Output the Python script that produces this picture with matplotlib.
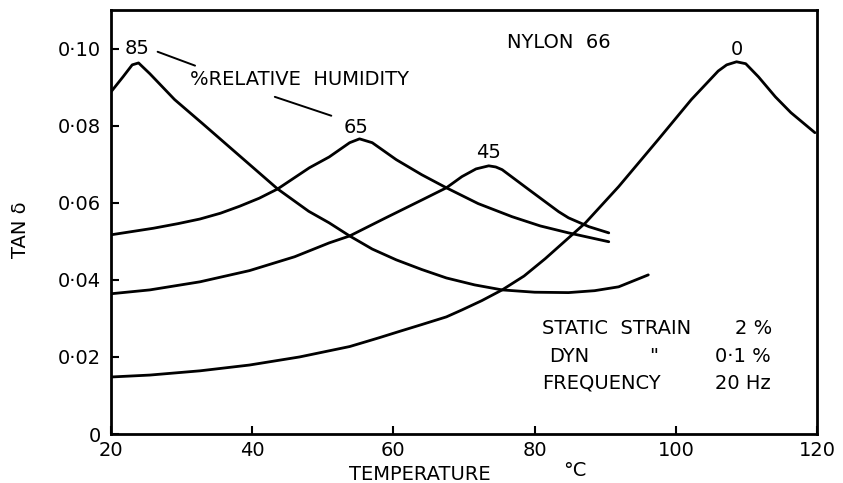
import matplotlib.pyplot as plt
import numpy as np

# tan delta of nylon 66 against temperature, one curve per relative humidity
temp_85 = [20.0, 21.7, 23.0, 23.9, 25.5, 29.0, 33.0, 37.2, 43.6, 48.0, 50.9, 53.8, 57.0, 60.4, 64.0, 67.5,
           71.5, 75.4, 80.0, 84.8, 88.5, 91.9, 96.1]
tan_85 = [0.0888, 0.0927, 0.0958, 0.0963, 0.0935, 0.0868, 0.0805, 0.0738, 0.0636, 0.0578, 0.0548, 0.0514,
          0.0480, 0.0452, 0.0427, 0.0405, 0.0387, 0.0374, 0.0368, 0.0367, 0.0372, 0.0382, 0.0413]

temp_65 = [20.0, 26.0, 29.5, 32.6, 35.5, 38.2, 41.0, 43.6, 48.1, 50.9, 53.8, 55.2, 57.0, 60.4, 64.0, 67.5,
           72.0, 76.8, 80.8, 84.8, 90.5]
tan_65 = [0.0517, 0.0534, 0.0546, 0.0558, 0.0573, 0.0591, 0.0612, 0.0636, 0.0691, 0.0719, 0.0756, 0.0766,
          0.0756, 0.0712, 0.0673, 0.0639, 0.0598, 0.0564, 0.0540, 0.0522, 0.0499]

temp_45 = [20.0, 25.5, 32.6, 39.6, 46.0, 50.9, 53.8, 58.8, 64.1, 67.5, 69.7, 71.7, 73.5, 74.5, 75.4, 79.2,
           83.4, 84.8, 87.7, 90.5]
tan_45 = [0.0364, 0.0374, 0.0395, 0.0424, 0.0460, 0.0496, 0.0514, 0.0560, 0.0608, 0.0639, 0.0668, 0.0688,
          0.0696, 0.0693, 0.0686, 0.0634, 0.0577, 0.0561, 0.0538, 0.0522]

temp_0 = [20.0, 25.5, 32.6, 39.6, 46.7, 53.8, 56.0, 58.0, 60.8, 64.0, 67.5, 69.7, 72.5, 75.4, 78.5, 81.5,
          85.3, 87.2, 91.9, 97.5, 102.2, 106.0, 107.2, 108.6, 109.9, 111.7, 114.1, 116.3, 119.7]
tan_0 = [0.0148, 0.0153, 0.0164, 0.0179, 0.0200, 0.0227, 0.0239, 0.0250, 0.0266, 0.0284, 0.0304, 0.0322,
         0.0346, 0.0374, 0.0410, 0.0455, 0.0517, 0.0548, 0.0642, 0.0764, 0.0868, 0.0942, 0.0958, 0.0966,
         0.0961, 0.0927, 0.0875, 0.0834, 0.0782]

xticks = [20, 40, 60, 80, 100, 120]
xtick_labels = ["20", "40", "60", "80", "100", "120"]
yticks = [0, 0.02, 0.04, 0.06, 0.08, 0.10]
ytick_labels = ["0", "0·02", "0·04", "0·06", "0·08", "0·10"]

fig = plt.figure(figsize=(8.43, 4.83), dpi=100)
ax = fig.add_axes([0.1317, 0.1014, 0.8375, 0.8776])

for t, v in [(temp_85, tan_85), (temp_65, tan_65), (temp_45, tan_45), (temp_0, tan_0)]:
    ax.plot(t, v, color="black", lw=2.0, solid_joinstyle="round", solid_capstyle="round")

ax.set_xlim(20, 120)
ax.set_ylim(0, 0.110)
ax.set_xticks(xticks)
ax.set_xticklabels(xtick_labels)
ax.set_yticks(yticks)
ax.set_yticklabels(ytick_labels)
ax.tick_params(direction="in", length=6, width=1.5, labelsize=14, color="black")
ax.tick_params(axis="y", pad=7)
ax.tick_params(axis="x", pad=5)
for s in ax.spines.values():
    s.set_linewidth(2.0)

# curve labels and leader lines
fs = 14
ax.text(23.7, 0.1001, "85", fontsize=fs, ha="center", va="center")
ax.text(54.7, 0.0795, "65", fontsize=fs, ha="center", va="center")
ax.text(73.5, 0.0730, "45", fontsize=fs, ha="center", va="center")
ax.text(108.6, 0.0997, "0", fontsize=fs, ha="center", va="center")
ax.text(31.2, 0.0920, "%RELATIVE  HUMIDITY", fontsize=fs, ha="left", va="center")
ax.annotate("", xy=(31.9, 0.0956), xytext=(26.6, 0.0992),
            arrowprops=dict(arrowstyle="-", lw=1.4, color="black", shrinkA=0, shrinkB=0))
ax.annotate("", xy=(51.2, 0.0826), xytext=(43.2, 0.0875),
            arrowprops=dict(arrowstyle="-", lw=1.4, color="black", shrinkA=0, shrinkB=0))
ax.text(76.1, 0.1016, "NYLON  66", fontsize=fs, ha="left", va="center")

# test conditions
ax.text(81.0, 0.0273, "STATIC  STRAIN", fontsize=fs, ha="left", va="center")
ax.text(108.4, 0.0273, "2 %", fontsize=fs, ha="left", va="center")
ax.text(82.0, 0.0200, "DYN", fontsize=fs, ha="left", va="center")
ax.text(96.8, 0.0200, "\"", fontsize=fs, ha="center", va="center")
ax.text(105.6, 0.0200, "0·1 %", fontsize=fs, ha="left", va="center")
ax.text(81.0, 0.0132, "FREQUENCY", fontsize=fs, ha="left", va="center")
ax.text(105.6, 0.0132, "20 Hz", fontsize=fs, ha="left", va="center")

fig.text(20 / 843, 1 - 230 / 483, "TAN δ", rotation=90, fontsize=fs, ha="center", va="center")
fig.text(420 / 843, 1 - 475 / 483, "TEMPERATURE", fontsize=fs, ha="center", va="center")
fig.text(575 / 843, 1 - 471 / 483, "°C", fontsize=fs, ha="center", va="center")

fig.savefig("out.png", dpi=100)
